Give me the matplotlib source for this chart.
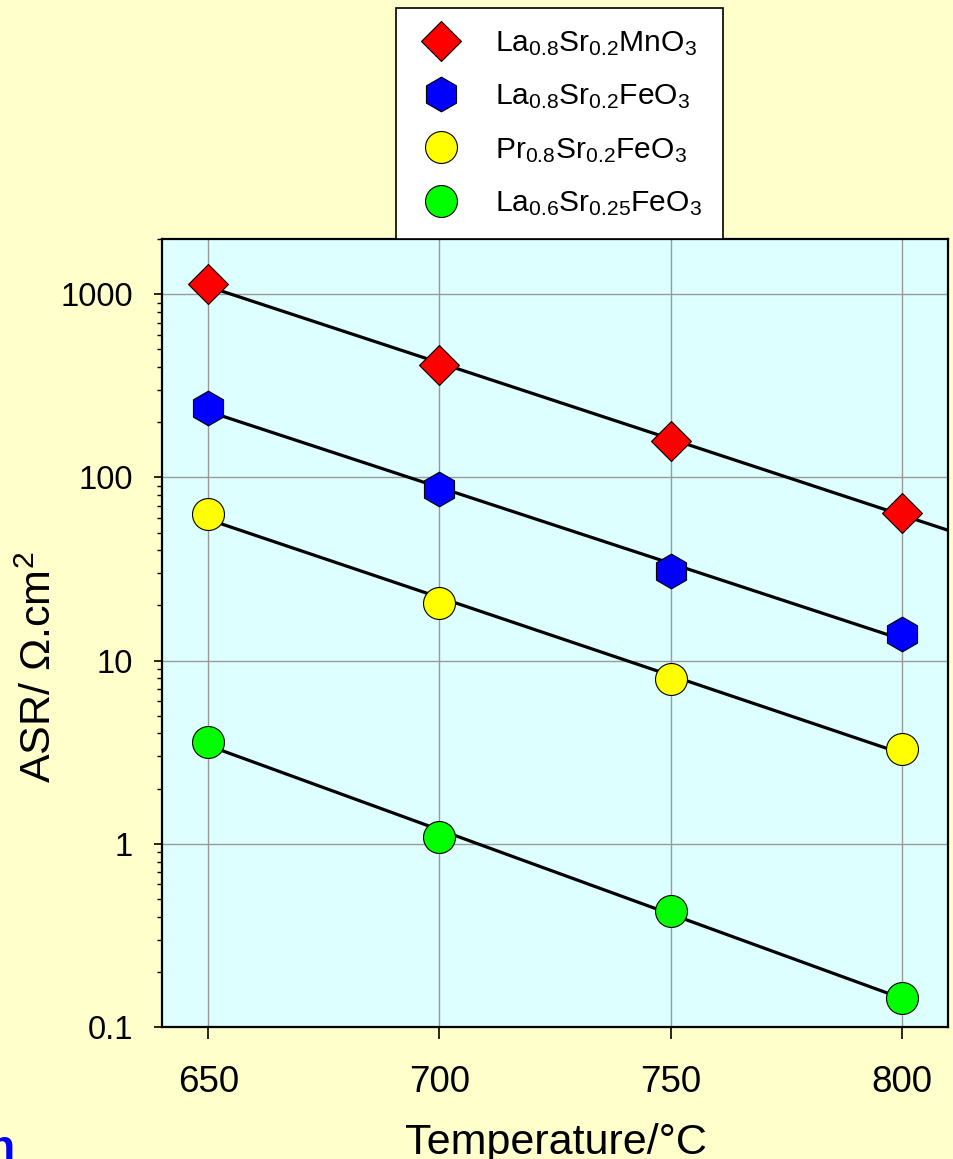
import matplotlib
matplotlib.use('Agg')
import matplotlib.pyplot as plt
import numpy as np

# ---------------- data ----------------
temperature = [650, 700, 750, 800]

asr_lsm   = [1130, 410, 158, 64]       # La0.8Sr0.2MnO3
asr_lsf   = [240, 86, 31, 14]          # La0.8Sr0.2FeO3
asr_psf   = [63, 20.5, 7.9, 3.3]       # Pr0.8Sr0.2FeO3
asr_lsf6  = [3.6, 1.09, 0.43, 0.144]   # La0.6Sr0.25FeO3

labels = ['La$_{0.8}$Sr$_{0.2}$MnO$_3$',
          'La$_{0.8}$Sr$_{0.2}$FeO$_3$',
          'Pr$_{0.8}$Sr$_{0.2}$FeO$_3$',
          'La$_{0.6}$Sr$_{0.25}$FeO$_3$']

# end temperature of each fitted line
fit_end = [815, 800, 800, 800]

# ---------------- style ----------------
plt.rcParams['font.family'] = ['Liberation Sans', 'DejaVu Sans']
plt.rcParams['mathtext.default'] = 'regular'

colors  = ['#FF0000', '#0000FF', '#FFFF00', '#00FF00']
markers = ['D', 'h', 'o', 'o']
msizes  = [20, 25, 23, 23]

fig = plt.figure(figsize=(9.54, 11.59), dpi=100, facecolor='#FFFFCC')
ax = fig.add_axes([162/954, 1 - 1027/1159, 786/954, 788/1159])
ax.set_facecolor('#DDFFFF')

series = [asr_lsm, asr_lsf, asr_psf, asr_lsf6]
handles = []
for vals, end, c, m, ms, lab in zip(series, fit_end, colors, markers, msizes, labels):
    # straight line fit in log space
    k, b = np.polyfit(temperature, np.log10(vals), 1)
    xf = np.array([temperature[0], end])
    ax.plot(xf, 10 ** (k * xf + b), color='black', lw=2.3, zorder=3)
    h, = ax.plot(temperature, vals, linestyle='none', marker=m, ms=ms,
                 markerfacecolor=c, markeredgecolor='black', markeredgewidth=0.8,
                 zorder=4, label=lab, clip_on=False)
    handles.append(h)

ax.set_yscale('log')
ax.set_xlim(640, 810)
ax.set_ylim(0.1, 2000)
ax.set_xticks([650, 700, 750, 800])
ax.set_yticks([0.1, 1, 10, 100, 1000])
ax.set_yticklabels(['0.1', '1', '10', '100', '1000'])
ax.xaxis.set_minor_locator(matplotlib.ticker.NullLocator())

ax.grid(True, which='major', color='#999999', lw=1.0, zorder=1)
ax.set_axisbelow(True)
for sp in ax.spines.values():
    sp.set_linewidth(1.6)
    sp.set_color('black')

ax.tick_params(axis='both', which='major', direction='out', width=1.2,
               top=False, right=False)
ax.tick_params(axis='x', which='major', length=8.5, pad=19, labelsize=26.5)
ax.tick_params(axis='y', which='major', length=6, pad=15, labelsize=23.5)
ax.tick_params(axis='y', which='minor', direction='out', length=3.5, width=1.0)

ax.set_xlabel('Temperature/°C', fontsize=31)
ax.xaxis.set_label_coords(0.501, -0.122)
ax.set_ylabel('ASR/ Ω.cm$^2$', fontsize=31)
ax.yaxis.set_label_coords(-0.130, 0.457)

# legend box sits on top of the axes frame
leg = ax.legend(handles=handles, loc='lower left', numpoints=1,
                bbox_to_anchor=(396/954, 1 - 239/1159), bbox_transform=fig.transFigure,
                borderaxespad=0, fontsize=21.6, fancybox=False, framealpha=1,
                edgecolor='black', facecolor='white', borderpad=0.7,
                handlelength=1.63, handletextpad=0.97, labelspacing=0.82)
leg.get_frame().set_linewidth(1.2)

# cropped blue fragment at the lower left
fig.text(-12/954, -2/1159, 'n', color='#0000FF', fontsize=32,
         fontweight='bold', ha='left', va='baseline')

fig.savefig('out.png', dpi=100, facecolor=fig.get_facecolor())
